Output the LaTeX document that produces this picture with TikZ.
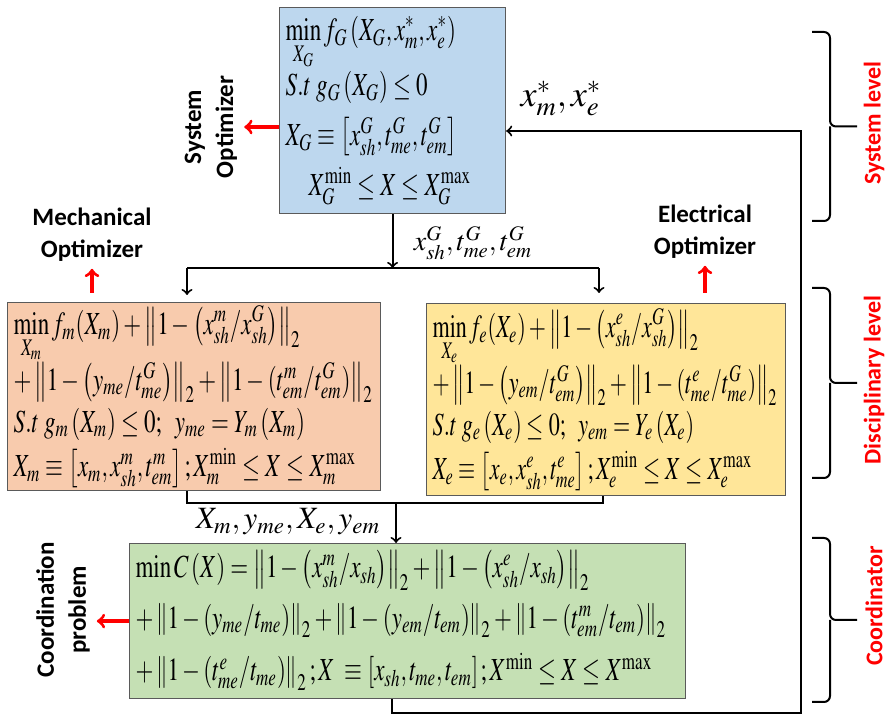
\documentclass[tikz,border=0pt]{standalone}
\usepackage{mathptmx}
\usepackage{fontspec}
\setmainfont{Liberation Serif}
\setsansfont{Carlito}
\usepackage{graphicx}

\definecolor{sysblue}{RGB}{189,215,238}
\definecolor{mechorange}{RGB}{248,203,173}
\definecolor{elecyellow}{RGB}{255,230,153}
\definecolor{coordgreen}{RGB}{197,224,180}
\definecolor{boxline}{RGB}{90,90,90}

\tikzset{
  eqbox/.style={draw=boxline, line width=0.6pt, anchor=north west, inner xsep=3pt, inner ysep=1pt,
    align=left, font=\fontsize{11.5}{13}\selectfont},
  flow/.style={->, line width=1pt},
  redarr/.style={->, red, line width=1.6pt},
  optlabel/.style={font=\sffamily\bfseries\fontsize{12.5}{16}\selectfont, align=center},
  lvllabel/.style={font=\sffamily\bfseries\fontsize{12}{14}\selectfont, text=red, rotate=90},
  varlabel/.style={font=\fontsize{14}{16}\selectfont}
}

\newcommand{\eqrows}[2][1]{\scalebox{#1}[1.4]{\begin{tabular}{@{}l@{}}#2\end{tabular}}}
\newcommand{\nrm}[1]{\left\|#1\right\|_2}

\begin{document}
\begin{tikzpicture}[x=0.5pt,y=-0.5pt]
    \useasboundingbox (0,0) rectangle (890,716);

    % Optimizadores
    \node[eqbox, fill=sysblue, text width=107pt, minimum height=103pt] (sys) at (279,7) {\eqrows{
        $\displaystyle\min_{X_G} f_G\left(X_G, x_m^{*}, x_e^{*}\right)$\\[4pt]
        $S.t\; g_G\left(X_G\right)\le 0$\\[4pt]
        $X_G\equiv\left[x_{sh}^G, t_{me}^G, t_{em}^G\right]$\\[4pt]
        \quad$X_G^{\min}\le X\le X_G^{\max}$}};

    \node[eqbox, fill=mechorange, text width=180.5pt, minimum height=94pt] (mech) at (7,302) {\eqrows{
        $\displaystyle\min_{X_m} f_m(X_m)+\nrm{1-\left(x_{sh}^m/x_{sh}^G\right)}$\\[1pt]
        $+\nrm{1-\left(y_{me}/t_{me}^G\right)}+\nrm{1-(t_{em}^m/t_{em}^G)}$\\[2pt]
        $S.t\; g_m\left(X_m\right)\le 0;\;\; y_{me}=Y_m\left(X_m\right)$\\[2pt]
        $X_m\equiv\left[x_m, x_{sh}^m, t_{em}^m\right];X_m^{\min}\le X\le X_m^{\max}$}};

    \node[eqbox, fill=elecyellow, text width=173.5pt, minimum height=96pt] (elec) at (426,303) {\eqrows[0.96]{
        $\displaystyle\min_{X_e} f_e(X_e)+\nrm{1-\left(x_{sh}^e/x_{sh}^G\right)}$\\[1pt]
        $+\nrm{1-\left(y_{em}/t_{em}^G\right)}+\nrm{1-(t_{me}^e/t_{me}^G)}$\\[2pt]
        $S.t\; g_e\left(X_e\right)\le 0;\;\; y_{em}=Y_e\left(X_e\right)$\\[2pt]
        $X_e\equiv\left[x_e, x_{sh}^e, t_{me}^e\right];X_e^{\min}\le X\le X_e^{\max}$}};

    \node[eqbox, fill=coordgreen, text width=272pt, minimum height=77.5pt] (coord) at (129,543) {\eqrows{
        $\min C\left(X\right)=\nrm{1-\left(x_{sh}^m/x_{sh}\right)}+\nrm{1-\left(x_{sh}^e/x_{sh}\right)}$\\[5pt]
        $+\nrm{1-\left(y_{me}/t_{me}\right)}+\nrm{1-\left(y_{em}/t_{em}\right)}+\nrm{1-(t_{em}^m/t_{em})}$\\[5pt]
        $+\nrm{1-(t_{me}^e/t_{me})};X\;\equiv\left[x_{sh}, t_{me}, t_{em}\right];X^{\min}\le X\le X^{\max}$}};

    % Conexiones
    \coordinate (splitL) at (187,268);
    \coordinate (splitR) at (599,268);
    \coordinate (joinL) at (187,503);
    \coordinate (joinR) at (603,503);
    \coordinate (joinM) at (396,503);
    \coordinate (fbA) at (392,713);
    \coordinate (fbB) at (801,713);
    \coordinate (fbC) at (801,131);

    \draw[flow] (sys.south) -- (sys.south |- splitL);
    \draw[line width=1pt] (splitL) -- (splitR);
    \draw[flow, shorten >=3.5pt] (splitL) -- (splitL |- mech.north);
    \draw[flow, shorten >=5pt] (splitR) -- (splitR |- elec.north);
    \draw[line width=1pt] (mech.south -| joinL) -- (joinL) -- (joinR) -- (elec.south -| joinR);
    \draw[flow] (joinM) -- (joinM |- coord.north);
    \draw[flow] (coord.south -| fbA) -- (fbA) -- (fbB) -- (fbC) -- (fbC -| sys.east);

    \node[varlabel] (splitlbl) at (473,243) {$x_{sh}^G, t_{me}^G, t_{em}^G$};
    \node[varlabel, font=\fontsize{15.5}{18}\selectfont] (joinlbl) at (288,522) {$X_m, y_{me}, X_e, y_{em}$};
    \node[varlabel, font=\fontsize{18}{20}\selectfont] (fblbl) at (561,98) {$x_m^{*}, x_e^{*}$};

    % Etiquetas de optimizadores
    \node[optlabel, rotate=90] (sysopt) at (211,127) {System\\Optimizer};
    \node[optlabel] (mechopt) at (92,235) {Mechanical\\Optimizer};
    \node[optlabel] (elecopt) at (705,232) {Electrical\\Optimizer};
    \node[optlabel, rotate=90] (coordprob) at (63,610) {Coordination\\problem};

    \draw[redarr] (sys.west |- sysopt.south) -- (sysopt.south);
    \draw[redarr, shorten <=4.5pt] (mech.north -| mechopt.south) -- (mechopt.south);
    \draw[redarr, shorten <=5pt] (elec.north -| elecopt.south) -- (elecopt.south);
    \draw[redarr] (coord.west) -- (coord.west -| coordprob.south);

    % Niveles
    \foreach \yt/\yb/\yl/\lbl [count=\i] in {32/221/123/System level, 288/478/380/Disciplinary level, 538/702/606/Coordinator}{
        \draw[line width=1pt, rounded corners=3pt] (812,\yt) -| (830,{(\yt+\yb)/2}) -- (857,{(\yt+\yb)/2});
        \draw[line width=1pt, rounded corners=3pt] (812,\yb) -| (830,{(\yt+\yb)/2});
        \node[lvllabel] (lvl\i) at (874,\yl) {\lbl};
    }

\end{tikzpicture}
\end{document}
